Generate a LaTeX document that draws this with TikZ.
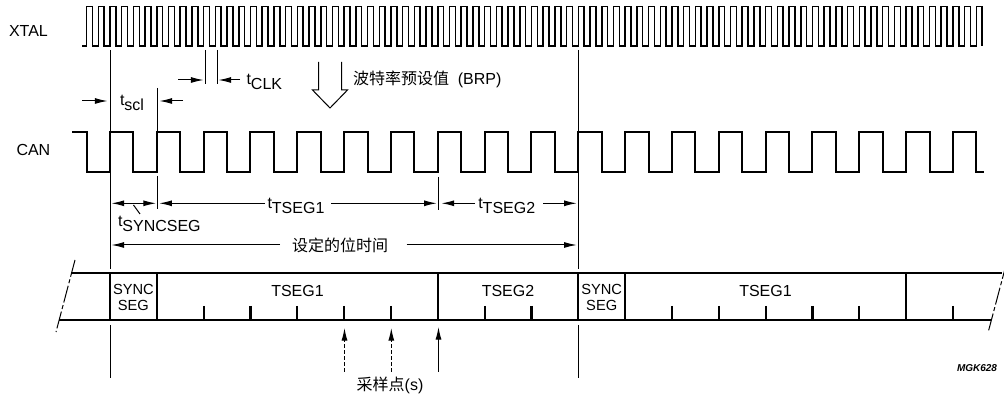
\documentclass[tikz,border=0pt]{standalone}
\usepackage{fontspec}
\setmainfont{Liberation Sans}
\newfontfamily\cjk{Noto Sans CJK SC}
\usetikzlibrary{arrows.meta}
\newcommand{\tsub}[1]{t\raisebox{-3.75pt}{#1}}
\begin{document}
\begin{tikzpicture}[x=0.75pt,y=-0.75pt,
  >={Latex[length=9.5pt,width=4.5pt]},
  every node/.style={inner sep=0pt, outer sep=0pt, font=\fontsize{12}{14}\selectfont},
  xtalw/.style={line width=1.15pt},
  canw/.style={line width=1.5pt},
  barl/.style={line width=1.6pt},
  guide/.style={line width=0.75pt},
  arr/.style={line width=0.75pt, ->},
  dsh/.style={dash pattern=on 3pt off 1.5pt},
  brk/.style={line width=0.75pt, dash pattern=on 13pt off 2pt on 3pt off 2pt},
  lbl/.style={anchor=base west},
  small/.style={anchor=base, font=\fontsize{11}{12}\selectfont},
]
\useasboundingbox (0,0) rectangle (1004,398);

% signal labels
\node[lbl] (xtal) at (9,36.5) {XTAL};
\node[lbl] (can) at (16.5,155.7) {CAN};

% XTAL clock
\draw[xtalw] (82,46) \foreach \k in {0,...,76}{
  -- ({86.6+\k*11.7075},46) -- ({86.6+\k*11.7075},6.5)
  -- ({92.45+\k*11.7075},6.5) -- ({92.45+\k*11.7075},46) };

% CAN clock (time quanta)
\draw[canw] (72,132.3) -- (86.6,132.3) -- (86.6,172.3)
  \foreach \k in {0,...,18}{
  -- ({110+\k*46.83},172.3) -- ({110+\k*46.83},132.3)
  -- ({133.4+\k*46.83},132.3) -- ({133.4+\k*46.83},172.3) }
  -- (984,172.3);

% guide lines
\draw[guide] (110,50) -- (110,269) (110,325) -- (110,378);
\draw[guide] (157,88) -- (157,132) (157,176) -- (157,209);
\draw[guide] (205,50) -- (205,84) (217,50) -- (217,84);
\draw[guide] (438,177) -- (438,210);
\draw[guide] (578,50) -- (578,269) (578,325) -- (578,378);

% tCLK
\draw[arr] (178,80) -- (203.5,80);
\draw[arr] (240,80) -- (218.5,80);
\node[lbl] (tclk) at (246.5,84.5) {\tsub{CLK}};

% tscl
\draw[arr] (82,101) -- (107.5,101);
\draw[arr] (183,101) -- (159.5,101);
\node[lbl] (tscl) at (120,105.5) {\tsub{scl}};

% BRP hollow arrow
\draw[guide] (318.5,62) -- (318.5,90) -- (312.5,90) -- (330,108)
  -- (347.5,90) -- (341.5,90) -- (341.5,62);
\node[lbl] (brp) at (353,85) {{\cjk 波特率预设值}\ \ (BRP)};

% segment timing
\draw[line width=0.75pt, <->] (111.5,203.3) -- (156,203.3);
\draw[guide] (133.5,205) -- (140,214);
\node[lbl] (tsync) at (118,227) {\tsub{SYNCSEG}};

\node[lbl] (ts1) at (267.5,208.5) {\tsub{TSEG1}};
\draw[arr] (265,203.3) -- (159.3,203.3);
\draw[arr] (331,203.3) -- (436.7,203.3);

\node[lbl] (ts2) at (478.3,208.5) {\tsub{TSEG2}};
\draw[arr] (475,203.3) -- (441.5,203.3);
\draw[arr] (543,203.3) -- (576.7,203.3);

\node (bt) at (340,245) {\cjk 设定的位时间};
\draw[arr] (280,245) -- (111.5,245);
\draw[arr] (406.7,245) -- (576.7,245);

% bit bar
\draw[barl] (71.5,273.3) -- (1001.5,273.3);
\draw[barl] (59.2,320) -- (990.7,320);
\foreach \n in {0,1,7,10,11,17}
  \draw[barl] ({110+\n*46.83},273.3) -- ({110+\n*46.83},320);
\foreach \n in {2,3,4,5,6,8,9,12,13,14,15,16,18}
  \draw[barl] ({110+\n*46.83},306) -- ({110+\n*46.83},320);
\draw[brk] (75,260) -- (56,332);
\draw[brk] (1006.8,262) -- (988.3,331.7);

\node[small] (sync1) at (133.4,294.3) {SYNC};
\node[small] (seg1) at (133.4,311) {SEG};
\node[small] (sync2) at (601.7,294.3) {SYNC};
\node[small] (seg2) at (601.7,311) {SEG};
\node[anchor=base] (tseg1a) at (297.5,296.7) {TSEG1};
\node[anchor=base] (tseg2) at (508,296.7) {TSEG2};
\node[anchor=base] (tseg1b) at (765.5,296.7) {TSEG1};

% sample points
\draw[arr, dsh] (344.5,372) -- (344.5,328);
\draw[arr, dsh] (391.3,372) -- (391.3,328);
\draw[arr] (438.5,372) -- (438.5,327);
\node (samp) at (390,385) {{\cjk 采样点}(s)};

\node[font=\fontsize{7.5}{8}\selectfont\bfseries\itshape] (mgk) at (977,368) {MGK628};
\end{tikzpicture}
\end{document}
